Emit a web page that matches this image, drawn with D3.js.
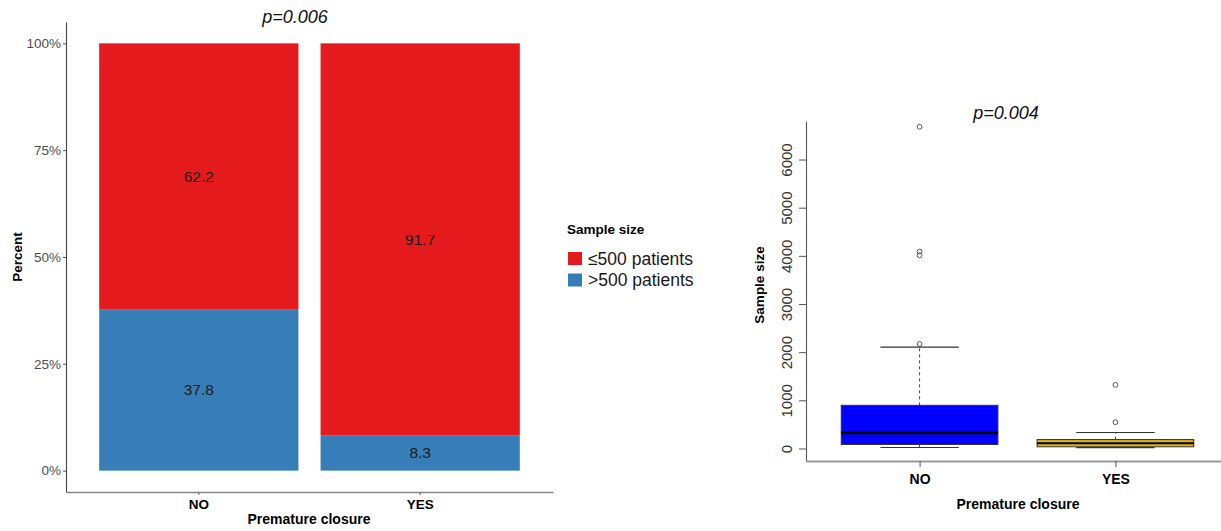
<!DOCTYPE html>
<html>
<head>
<meta charset="utf-8">
<script src="https://cdn.jsdelivr.net/npm/d3@7"></script>
<style>
  html, body { margin: 0; padding: 0; background: #fff; }
  svg { display: block; font-family: "Liberation Sans", Arial, sans-serif; }
</style>
</head>
<body>
<svg id="chart" width="1221" height="531"></svg>
<script>
// ---- Stacked percentage bars ----
const categories = ["NO", "YES"];
const pctLe500 = [62.2, 91.7];
const pctGt500 = [37.8, 8.3];
const pctTicks = [0, 25, 50, 75, 100];
const legendLabels = ["\u2264500 patients", ">500 patients"];

// ---- Box plot of sample size ----
const boxQ1 = [83, 35];
const boxMedian = [325, 108];
const boxQ3 = [896, 185];
const whiskerLow = [21, 18];
const whiskerHigh = [2104, 333];
const outliersNO = [2170, 4010, 4090, 6680];
const outliersYES = [545, 1320];
const sampleTicks = [0, 1000, 2000, 3000, 4000, 5000, 6000];

const svg = d3.select("#chart");
const setColors = ["#E41A1C", "#377EB8"];

// ================= Left panel =================
const xL = d3.scaleBand().domain(categories).range([66, 553])
  .paddingInner(0.1).paddingOuter(0.15);
const yL = d3.scaleLinear().domain([-5, 105]).range([492, 22]);

const stacks = categories.map((c, i) => ({
  cat: c,
  parts: [
    { key: 1, lo: 0, hi: pctGt500[i], v: pctGt500[i] },
    { key: 0, lo: pctGt500[i], hi: 100, v: pctLe500[i] }
  ]
}));

const gL = svg.append("g");
stacks.forEach(s => {
  s.parts.forEach(p => {
    gL.append("rect")
      .attr("x", xL(s.cat))
      .attr("width", xL.bandwidth())
      .attr("y", yL(p.hi))
      .attr("height", yL(p.lo) - yL(p.hi))
      .attr("fill", setColors[p.key]);
    gL.append("text")
      .attr("x", xL(s.cat) + xL.bandwidth() / 2)
      .attr("y", yL((p.lo + p.hi) / 2))
      .attr("dy", "0.35em")
      .attr("text-anchor", "middle")
      .attr("font-size", 15.5)
      .attr("fill", "#1a1a1a")
      .text(p.v.toFixed(1));
  });
});

// y axis
const yAxL = gL.append("g").attr("transform", "translate(66,0)")
  .call(d3.axisLeft(yL).tickValues(pctTicks).tickFormat(d => d + "%")
    .tickSize(3).tickSizeOuter(0).tickPadding(2));
yAxL.select(".domain").attr("stroke", "#444").attr("stroke-width", 1.1);
yAxL.selectAll(".tick line").attr("stroke", "#555");
yAxL.selectAll(".tick text").attr("font-size", 13.5).attr("fill", "#4d4d4d")
  .attr("font-family", "Liberation Sans, Arial, sans-serif");

// x axis
const xAxL = gL.append("g").attr("transform", "translate(0,492)")
  .call(d3.axisBottom(xL).tickSize(3).tickSizeOuter(0).tickPadding(4));
xAxL.select(".domain").attr("stroke", "#888").attr("stroke-width", 1.5);
xAxL.selectAll(".tick line").attr("stroke", "#666");
xAxL.selectAll(".tick text").attr("font-size", 13.5).attr("font-weight", "bold")
  .attr("fill", "#000").attr("font-family", "Liberation Sans, Arial, sans-serif");

gL.append("text").attr("x", 309).attr("y", 524).attr("text-anchor", "middle")
  .attr("font-size", 14).attr("font-weight", "bold").text("Premature closure");
gL.append("text").attr("transform", "translate(22,257) rotate(-90)")
  .attr("text-anchor", "middle").attr("font-size", 13.5).attr("font-weight", "bold")
  .text("Percent");
gL.append("text").attr("x", 295).attr("y", 23).attr("text-anchor", "middle")
  .attr("font-size", 18).attr("font-style", "italic").attr("fill", "#111")
  .text("p=0.006");

// legend
const gLeg = svg.append("g");
gLeg.append("text").attr("x", 567).attr("y", 234).attr("font-size", 13.5)
  .attr("font-weight", "bold").text("Sample size");
legendLabels.forEach((lab, i) => {
  gLeg.append("rect").attr("x", 568).attr("y", 252 + i * 21.5)
    .attr("width", 14).attr("height", 13).attr("fill", setColors[i]);
  gLeg.append("text").attr("x", 588).attr("y", 264.5 + i * 21.5)
    .attr("font-size", 17.5).attr("fill", "#1a1a1a").text(lab);
});

// ================= Right panel =================
const xR = d3.scaleLinear().domain([0.42, 2.58]).range([806, 1229]);
const yR = d3.scaleLinear().domain([-260, 6800]).range([461, 121]);
const boxW = 0.8, capW = 0.4;

const gR = svg.append("g");
const boxFills = ["#0000FF", "#DDB515"];
const outliers = [outliersNO, outliersYES];

categories.forEach((c, i) => {
  const cx = xR(i + 1);
  const half = (xR(1 + boxW / 2) - xR(1));
  const capHalf = (xR(1 + capW / 2) - xR(1));
  // whiskers (dashed)
  gR.append("line").attr("x1", cx).attr("x2", cx)
    .attr("y1", yR(boxQ3[i])).attr("y2", yR(whiskerHigh[i]))
    .attr("stroke", "#444").attr("stroke-dasharray", "3,3");
  gR.append("line").attr("x1", cx).attr("x2", cx)
    .attr("y1", yR(boxQ1[i])).attr("y2", yR(whiskerLow[i]))
    .attr("stroke", "#444").attr("stroke-dasharray", "3,3");
  // caps
  [whiskerHigh[i], whiskerLow[i]].forEach(v => {
    gR.append("line").attr("x1", cx - capHalf).attr("x2", cx + capHalf)
      .attr("y1", yR(v)).attr("y2", yR(v)).attr("stroke", "#333").attr("stroke-width", 1.1);
  });
  // box
  gR.append("rect").attr("x", cx - half).attr("width", 2 * half)
    .attr("y", yR(boxQ3[i])).attr("height", yR(boxQ1[i]) - yR(boxQ3[i]))
    .attr("fill", boxFills[i]).attr("stroke", "#333").attr("stroke-width", 1);
  // median
  gR.append("line").attr("x1", cx - half).attr("x2", cx + half)
    .attr("y1", yR(boxMedian[i])).attr("y2", yR(boxMedian[i]))
    .attr("stroke", "#000").attr("stroke-width", i === 0 ? 3 : 2);
  // outliers
  outliers[i].forEach(v => {
    gR.append("circle").attr("cx", cx).attr("cy", yR(v)).attr("r", 2.4)
      .attr("fill", "none").attr("stroke", "#444").attr("stroke-width", 0.9);
  });
});

// y axis with vertical labels
const yAxR = gR.append("g").attr("transform", "translate(806,0)")
  .call(d3.axisLeft(yR).tickValues(sampleTicks).tickFormat(d3.format("d"))
    .tickSize(7).tickSizeOuter(0));
yAxR.select(".domain").attr("stroke", "#555").attr("stroke-width", 1.1);
yAxR.selectAll(".tick line").attr("stroke", "#555");
yAxR.selectAll(".tick text")
  .attr("font-size", 15).attr("fill", "#333")
  .attr("font-family", "Liberation Sans, Arial, sans-serif")
  .attr("text-anchor", "middle").attr("dy", 0).attr("x", 0)
  .attr("transform", "translate(-14,0) rotate(-90)");

// x axis
const xAxR = gR.append("g").attr("transform", "translate(0,461)")
  .call(d3.axisBottom(xR).tickValues([1, 2]).tickFormat(d => categories[d - 1])
    .tickSize(6).tickSizeOuter(0).tickPadding(7));
xAxR.select(".domain").attr("stroke", "#999").attr("stroke-width", 2);
xAxR.selectAll(".tick line").attr("stroke", "#555");
xAxR.selectAll(".tick text").attr("font-size", 14).attr("font-weight", "bold")
  .attr("fill", "#000").attr("font-family", "Liberation Sans, Arial, sans-serif");

gR.append("text").attr("x", 1018).attr("y", 509).attr("text-anchor", "middle")
  .attr("font-size", 14).attr("font-weight", "bold").text("Premature closure");
gR.append("text").attr("transform", "translate(764,285) rotate(-90)")
  .attr("text-anchor", "middle").attr("font-size", 13.5).attr("font-weight", "bold")
  .text("Sample size");
gR.append("text").attr("x", 1006).attr("y", 119).attr("text-anchor", "middle")
  .attr("font-size", 18).attr("font-style", "italic").attr("fill", "#111")
  .text("p=0.004");
</script>
</body>
</html>
